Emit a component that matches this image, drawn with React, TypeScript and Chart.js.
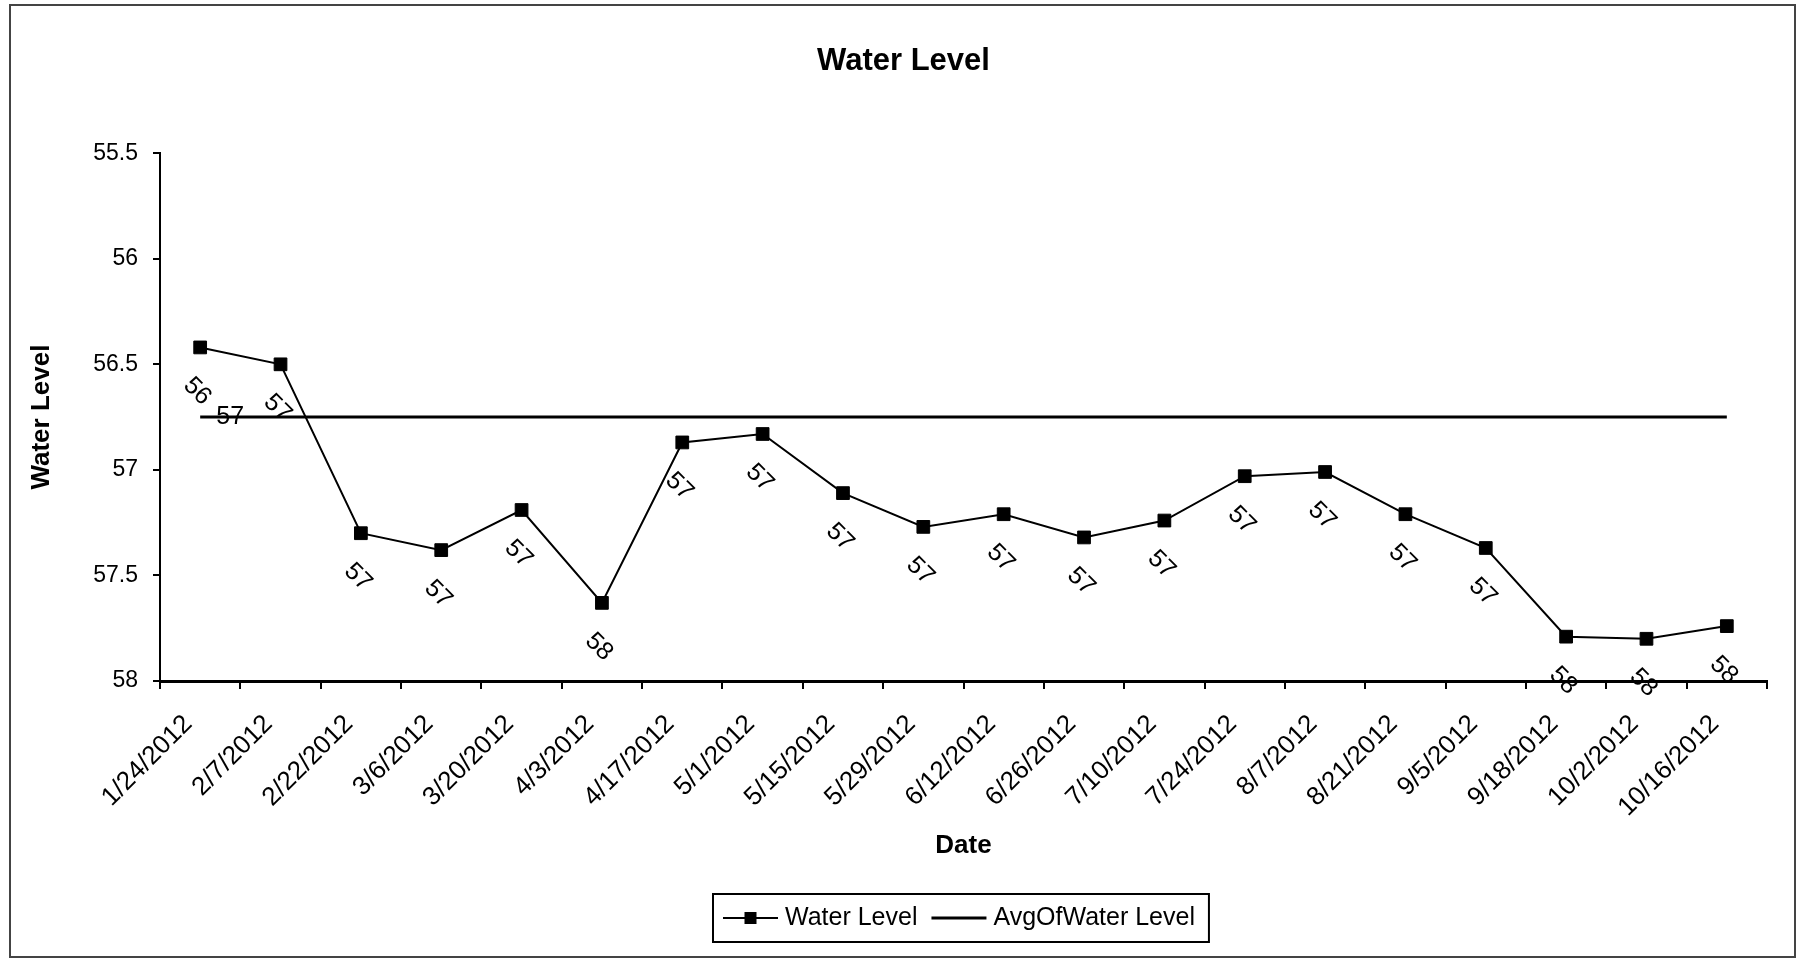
import React, { useEffect, useRef } from 'react';
import { Chart, registerables } from 'chart.js';

Chart.register(...registerables);

const FONT = "'Liberation Sans', Arial, Helvetica, sans-serif";

const categories = [
  '1/24/2012', '2/7/2012', '2/22/2012', '3/6/2012', '3/20/2012', '4/3/2012', '4/17/2012',
  '5/1/2012', '5/15/2012', '5/29/2012', '6/12/2012', '6/26/2012', '7/10/2012', '7/24/2012',
  '8/7/2012', '8/21/2012', '9/5/2012', '9/18/2012', '10/2/2012', '10/16/2012',
];

const waterLevel = [
  56.42, 56.5, 57.3, 57.38, 57.19, 57.63, 56.87, 56.83, 57.11, 57.27,
  57.21, 57.32, 57.24, 57.03, 57.01, 57.21, 57.37, 57.79, 57.8, 57.74,
];

const avgWaterLevel = [
  56.75, 56.75, 56.75, 56.75, 56.75, 56.75, 56.75, 56.75, 56.75, 56.75,
  56.75, 56.75, 56.75, 56.75, 56.75, 56.75, 56.75, 56.75, 56.75, 56.75,
];

const yTickValues = [55.5, 56, 56.5, 57, 57.5, 58];

const framePlugin = {
  id: 'frame',
  beforeDraw(chart: any) {
    const ctx = chart.ctx;
    ctx.save();
    ctx.fillStyle = '#ffffff';
    ctx.fillRect(0, 0, chart.width, chart.height);
    ctx.strokeStyle = '#444444';
    ctx.lineWidth = 2;
    ctx.strokeRect(10, 5, chart.width - 14, chart.height - 7);
    ctx.restore();
  },
};

const pointLabelPlugin = {
  id: 'pointLabels',
  afterDatasetsDraw(chart: any) {
    const ctx = chart.ctx;
    ctx.save();
    ctx.fillStyle = '#000';
    ctx.font = `25px ${FONT}`;
    ctx.textAlign = 'center';
    ctx.textBaseline = 'middle';
    const meta0 = chart.getDatasetMeta(0);
    const data0 = chart.data.datasets[0].data as number[];
    meta0.data.forEach((pt: any, i: number) => {
      ctx.save();
      ctx.translate(pt.x - 3, pt.y + 44);
      ctx.rotate(Math.PI / 4);
      ctx.fillText(String(Math.round(data0[i])), 0, 0);
      ctx.restore();
    });
    const meta1 = chart.getDatasetMeta(1);
    const data1 = chart.data.datasets[1].data as number[];
    const p = meta1.data[0];
    if (p) ctx.fillText(String(Math.round(data1[0])), p.x + 30, p.y);
    ctx.restore();
  },
};

const boxLegendPlugin = {
  id: 'boxLegend',
  afterDraw(chart: any) {
    const ctx = chart.ctx;
    const ds = chart.data.datasets;
    ctx.save();
    ctx.font = `25px ${FONT}`;
    const lineLen = 55;
    const gapLine = 7;
    const gapItem = 14;
    const padL = 10;
    const padR = 14;
    const widths = ds.map((d: any) => ctx.measureText(d.label).width);
    const total =
      padL +
      widths.reduce((a: number, w: number) => a + lineLen + gapLine + w, 0) +
      gapItem * (ds.length - 1) +
      padR;
    const left = chart.chartArea.left + 553;
    const top = 894;
    const h = 48;
    let x = left;
    ctx.strokeStyle = '#000';
    ctx.lineWidth = 2;
    ctx.strokeRect(x, top, total, h);
    const cy = top + h / 2;
    x += padL;
    ds.forEach((d: any, i: number) => {
      ctx.beginPath();
      ctx.lineWidth = d.borderWidth;
      ctx.strokeStyle = d.borderColor;
      ctx.moveTo(x, cy);
      ctx.lineTo(x + lineLen, cy);
      ctx.stroke();
      if (d.pointRadius > 0) {
        ctx.fillStyle = '#000';
        ctx.fillRect(x + lineLen / 2 - 6, cy - 6, 12, 12);
      }
      x += lineLen + gapLine;
      ctx.fillStyle = '#000';
      ctx.textBaseline = 'middle';
      ctx.textAlign = 'left';
      ctx.fillText(d.label, x, cy);
      x += widths[i] + gapItem;
    });
    ctx.restore();
  },
};

export default function App() {
  const canvasRef = useRef<HTMLCanvasElement | null>(null);

  useEffect(() => {
    if (!canvasRef.current) return;
    const chart = new Chart(canvasRef.current, {
      type: 'line',
      data: {
        labels: categories,
        datasets: [
          {
            label: 'Water Level',
            data: waterLevel,
            borderColor: '#000',
            backgroundColor: '#000',
            borderWidth: 2,
            pointStyle: 'rect',
            pointRadius: 9,
            pointBackgroundColor: '#000',
            pointBorderColor: '#000',
            pointBorderWidth: 1,
            tension: 0,
          },
          {
            label: 'AvgOfWater Level',
            data: avgWaterLevel,
            borderColor: '#000',
            backgroundColor: '#000',
            borderWidth: 3,
            pointRadius: 0,
            tension: 0,
          },
        ],
      },
      options: {
        animation: false,
        responsive: true,
        maintainAspectRatio: false,
        layout: { padding: { left: 40, right: 32, top: 0, bottom: 88 } },
        plugins: {
          legend: { display: false },
          tooltip: { enabled: false },
          title: {
            display: true,
            text: 'Water Level',
            color: '#000',
            font: { size: 31, weight: 'bold', family: FONT },
            padding: { top: 43, bottom: 73 },
          },
        },
        scales: {
          x: {
            type: 'category',
            offset: true,
            grid: {
              display: true,
              offset: true,
              drawOnChartArea: false,
              drawTicks: true,
              tickLength: 8,
              color: '#000',
              lineWidth: 2,
            },
            border: { display: true, color: '#000', width: 3 },
            ticks: {
              autoSkip: false,
              minRotation: 45,
              maxRotation: 45,
              padding: 20,
              labelOffset: -12,
              color: '#000',
              font: { size: 26, family: FONT },
            },
            title: {
              display: true,
              text: 'Date',
              color: '#000',
              font: { size: 26, weight: 'bold', family: FONT },
              padding: { top: 0, bottom: 10 },
            },
            afterFit(scale: any) {
              scale.height = 190;
            },
          },
          y: {
            reverse: true,
            min: 55.5,
            max: 58,
            afterBuildTicks(scale: any) {
              scale.ticks = yTickValues.map((v) => ({ value: v }));
            },
            grid: {
              drawOnChartArea: false,
              drawTicks: true,
              tickLength: 7,
              color: '#000',
              lineWidth: 2,
            },
            border: { display: true, color: '#000', width: 2 },
            ticks: {
              padding: 15,
              color: '#000',
              font: { size: 23, family: FONT },
              callback: (v: any) => String(v),
            },
            title: {
              display: true,
              text: 'Water Level',
              color: '#000',
              font: { size: 26, weight: 'bold', family: FONT },
              padding: { top: -13.6, bottom: 0 },
            },
            afterFit(scale: any) {
              scale.width = 120;
            },
          },
        },
      } as any,
      plugins: [framePlugin, pointLabelPlugin, boxLegendPlugin],
    });
    return () => chart.destroy();
  }, []);

  return (
    <div style={{ position: 'absolute', left: 0, top: 0, width: 1799, height: 959 }}>
      <canvas ref={canvasRef} />
    </div>
  );
}
